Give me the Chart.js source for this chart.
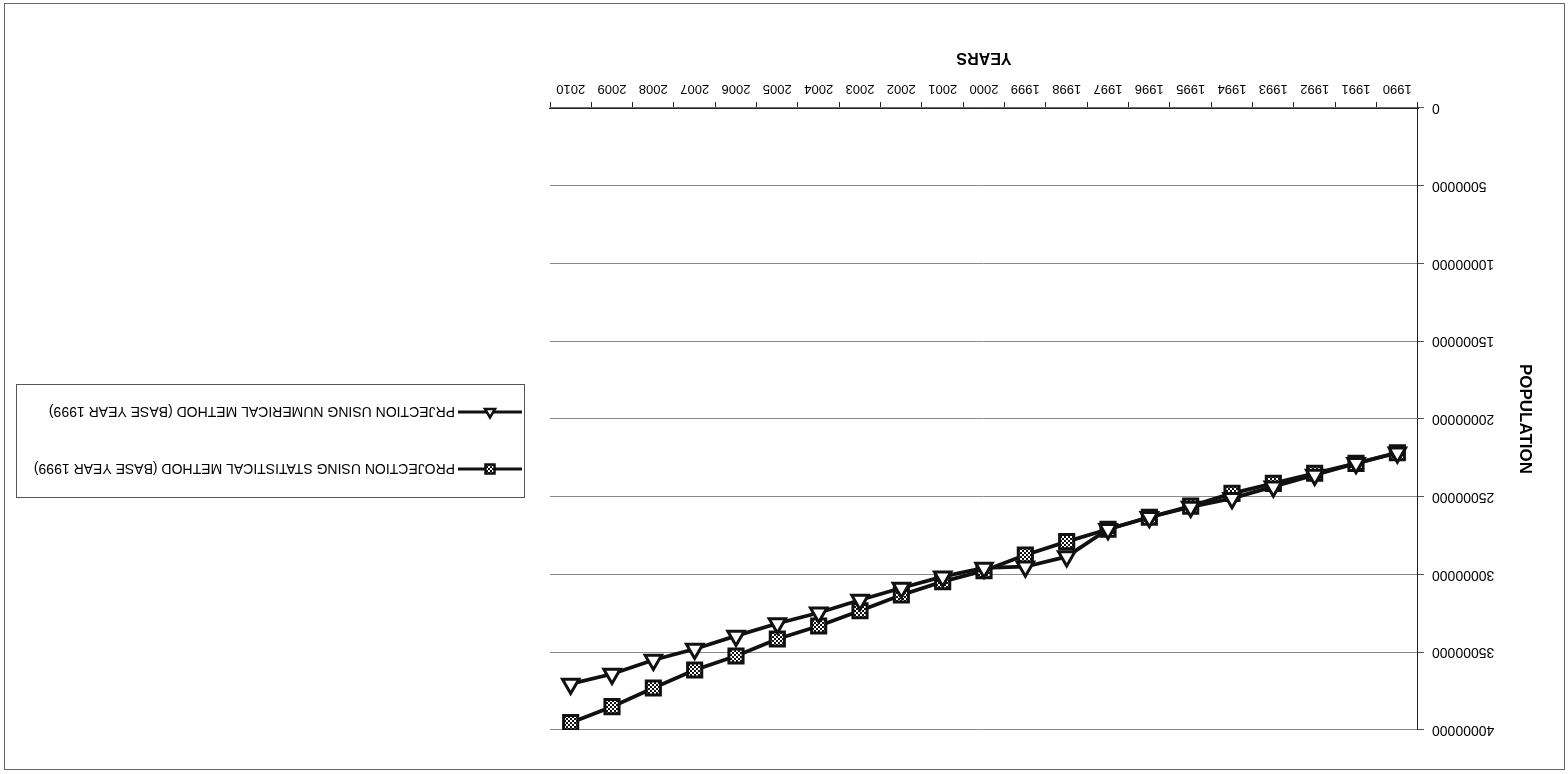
<!DOCTYPE html>
<html>
<head>
<meta charset="utf-8">
<script src="https://cdn.jsdelivr.net/npm/chart.js@4.4.1/dist/chart.umd.min.js"></script>
<style>
  html, body { margin: 0; padding: 0; background: #fff; }
  #wrap { width: 1568px; height: 774px; transform: rotate(180deg); transform-origin: 50% 50%; }
  canvas { display: block; }
</style>
</head>
<body>
<div id="wrap"><canvas id="c" width="1568" height="774"></canvas></div>
<script>
// Years on the horizontal axis
const years = ['1990','1991','1992','1993','1994','1995','1996','1997','1998','1999','2000',
               '2001','2002','2003','2004','2005','2006','2007','2008','2009','2010'];

// Population projections (base year 1999)
const statisticalProjection = [22170000, 22850000, 23490000, 24140000, 24780000, 25600000, 26320000,
                               27090000, 27890000, 28750000, 29760000, 30460000, 31320000, 32330000,
                               33310000, 34150000, 35240000, 36140000, 37300000, 38500000, 39530000];
const numericalProjection   = [22170000, 22850000, 23600000, 24350000, 25100000, 25660000, 26320000,
                               27090000, 28850000, 29500000, 29580000, 30140000, 30870000, 31640000,
                               32460000, 33150000, 33950000, 34790000, 35500000, 36400000, 37040000];

// Population axis ticks
const populationTicks = [0, 5000000, 10000000, 15000000, 20000000, 25000000, 30000000, 35000000, 40000000];

const seriesNames = ['PROJECTION USING STATISTICAL METHOD (BASE YEAR 1999)',
                     'PRJECTION USING NUMERICAL METHOD (BASE YEAR 1999)'];

const FONT = '"Liberation Sans", Arial, Helvetica, sans-serif';

// Dotted fill used inside the square markers
function ditherPattern() {
  const p = document.createElement('canvas');
  p.width = 4; p.height = 4;
  const g = p.getContext('2d');
  g.fillStyle = '#111'; g.fillRect(0, 0, 4, 4);
  g.fillStyle = '#fff';
  g.fillRect(0, 0, 2, 2);
  g.fillRect(2, 2, 2, 2);
  return g.createPattern(p, 'repeat');
}
const ctx = document.getElementById('c').getContext('2d');
const dots = ditherPattern();

// White page background plus the outer frame
const pageFrame = {
  id: 'pageFrame',
  beforeDraw(chart) {
    const c = chart.ctx;
    c.save();
    c.fillStyle = '#fff';
    c.fillRect(0, 0, chart.width, chart.height);
    c.restore();
  },
  afterDraw(chart) {
    const c = chart.ctx;
    c.save();
    c.strokeStyle = '#666';
    c.lineWidth = 1;
    c.strokeRect(3.5, 4.5, 1560, 766);
    c.restore();
  }
};

// Boxed legend with a line sample and marker per series
const boxedLegend = {
  id: 'boxedLegend',
  afterDraw(chart, args, o) {
    const c = chart.ctx;
    c.save();
    c.strokeStyle = '#555';
    c.lineWidth = 1;
    c.strokeRect(o.x + 0.5, o.y + 0.5, o.w, o.h);
    c.font = o.font;
    c.textBaseline = 'middle';
    c.textAlign = 'left';
    o.order.forEach((di, row) => {
      const ds = chart.data.datasets[di];
      const cy = o.rowY[row];
      c.strokeStyle = '#111';
      c.lineWidth = 3;
      c.beginPath();
      c.moveTo(o.x + o.lineStart, cy);
      c.lineTo(o.x + o.lineEnd, cy);
      c.stroke();
      const mx = o.x + (o.lineStart + o.lineEnd) / 2;
      c.lineWidth = 2.5;
      c.strokeStyle = '#111';
      c.beginPath();
      if (ds.pointStyle === 'rect') {
        c.fillStyle = ds.pointBackgroundColor;
        c.rect(mx - 4.5, cy - 4.5, 9, 9);
      } else {
        c.fillStyle = '#fff';
        c.moveTo(mx, cy - 5.5);
        c.lineTo(mx + 5, cy + 3);
        c.lineTo(mx - 5, cy + 3);
        c.closePath();
      }
      c.fill();
      c.stroke();
      c.fillStyle = '#000';
      c.fillText(ds.label, o.x + o.textStart, cy + 1);
    });
    c.restore();
  }
};

new Chart(ctx, {
  type: 'line',
  data: {
    labels: years,
    datasets: [
      {
        label: seriesNames[1],
        data: numericalProjection,
        borderColor: '#111',
        borderWidth: 3.8,
        tension: 0,
        pointStyle: 'triangle',
        pointRadius: 9.5,
        pointBorderWidth: 3,
        pointBorderColor: '#111',
        pointBackgroundColor: '#fff'
      },
      {
        label: seriesNames[0],
        data: statisticalProjection,
        borderColor: '#111',
        borderWidth: 3.8,
        tension: 0,
        pointStyle: 'rect',
        pointRadius: 10,
        pointBorderWidth: 3,
        pointBorderColor: '#111',
        pointBackgroundColor: dots
      }
    ]
  },
  options: {
    responsive: false,
    animation: false,
    events: [],
    layout: { padding: { left: 10, top: 44, right: 550, bottom: 8 } },
    plugins: {
      legend: { display: false },
      tooltip: { enabled: false },
      boxedLegend: {
        x: 1043, y: 276, w: 508, h: 113,
        rowY: [305, 362],
        order: [1, 0],
        lineStart: 3, lineEnd: 67, textStart: 70,
        font: '14px ' + FONT
      }
    },
    scales: {
      x: {
        type: 'category',
        offset: true,
        afterFit(s) { s.height = 100; },
        grid: { display: true, offset: true, drawOnChartArea: false, drawTicks: true, tickLength: 6, tickColor: '#222' },
        border: { display: true, color: '#222', width: 1.2 },
        ticks: { color: '#000', font: { family: FONT, size: 13 }, padding: 6, maxRotation: 0, autoSkip: false },
        title: { display: true, text: 'YEARS', color: '#000', font: { family: FONT, size: 16, weight: 'bold' }, padding: { top: 0, bottom: 40 } }
      },
      y: {
        min: 0,
        max: 40000000,
        afterFit(s) { s.width = 140; },
        afterBuildTicks(s) { s.ticks = populationTicks.map(v => ({ value: v })); },
        grid: { color: '#8a8a8a', lineWidth: 1, drawTicks: true, tickLength: 6, tickColor: '#555' },
        border: { display: true, color: '#222', width: 1 },
        ticks: { color: '#000', font: { family: FONT, size: 14 }, padding: 8, callback: v => String(v) },
        title: { display: true, text: 'POPULATION', color: '#000', font: { family: FONT, size: 17, weight: 'bold' }, padding: { top: 23, bottom: 0 } }
      }
    }
  },
  plugins: [pageFrame, boxedLegend]
});
</script>
</body>
</html>
